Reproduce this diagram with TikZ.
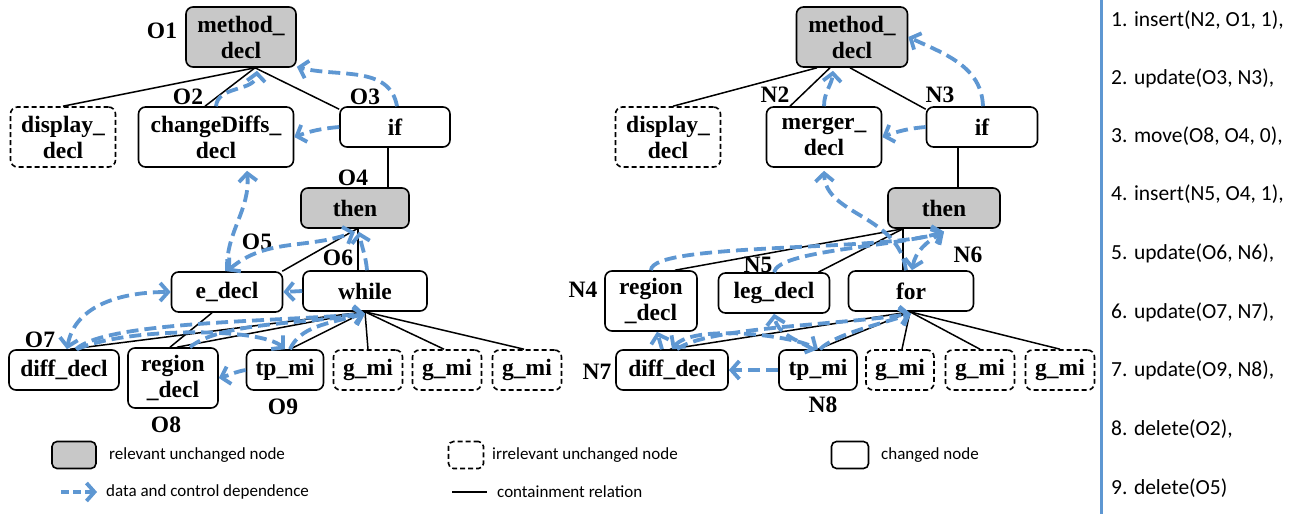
\documentclass[tikz,border=0pt]{standalone}
\usepackage{fontspec}
\usetikzlibrary{arrows.meta}
\newfontfamily\nodeserif{Liberation Serif}
\newfontfamily\calib{Carlito}
\newcommand{\nodetextfont}{\nodeserif\bfseries\fontsize{23.5}{26}\selectfont}
\newcommand{\legtextfont}{\calib\fontsize{17}{20}\selectfont}
\newcommand{\listtextfont}{\calib\fontsize{21.5}{24}\selectfont}
\definecolor{depblue}{RGB}{94,151,210}
\definecolor{relgray}{RGB}{200,200,200}
\tikzset{
  box/.style={draw=black, line width=1.6pt, rounded corners=7pt, inner sep=0pt, align=center, font=\nodetextfont},
  relbox/.style={box, fill=relgray},
  irrbox/.style={box, dash pattern=on 5pt off 3pt},
  chgbox/.style={box},
  lbl/.style={font=\nodetextfont, inner sep=0pt},
  cont/.style={line width=1.5pt},
  dep/.style={draw=depblue, line width=3.8pt, dash pattern=on 12pt off 6pt, -{Straight Barb[length=8pt,width=18pt]}},
  depb/.style={dep, {Straight Barb[length=8pt,width=18pt]}-{Straight Barb[length=8pt,width=18pt]}},
  legtext/.style={anchor=west, font=\legtextfont, inner sep=0pt},
  listtext/.style={anchor=west, font=\listtextfont, inner sep=0pt},
}
\begin{document}
\begin{tikzpicture}[x=1pt,y=-1pt]
\useasboundingbox (0,0) rectangle (1299,514);
\fill[white] (0,0) rectangle (1299,514);

% ---------------- left tree ----------------
\node[relbox, minimum width=110pt, minimum height=60pt] (lm) at (241,37) {method\_\\decl};
\node[irrbox, minimum width=105pt, minimum height=60pt] (ldisp) at (63,137) {display\_\\decl};
\node[chgbox, minimum width=155pt, minimum height=60pt] (lchg) at (216,137) {changeDiffs\_\\decl};
\node[chgbox, minimum width=110pt, minimum height=40pt] (lif) at (395,127) {if};
\node[relbox, minimum width=108pt, minimum height=40pt] (lthen) at (355,208) {then};
\node[chgbox, minimum width=111pt, minimum height=40pt] (led) at (227,292) {e\_decl};
\node[chgbox, minimum width=124pt, minimum height=40pt] (lwhile) at (365,291) {while};
\node[chgbox, minimum width=110pt, minimum height=40pt] (ldiff) at (64,370) {diff\_decl};
\node[chgbox, minimum width=90pt, minimum height=60pt] (lreg) at (173,378) {region\\\_decl};
\node[chgbox, minimum width=77pt, minimum height=40pt] (ltp) at (285,370) {tp\_mi};
\node[irrbox, minimum width=69pt, minimum height=40pt] (lg1) at (368,370) {g\_mi};
\node[irrbox, minimum width=69pt, minimum height=40pt] (lg2) at (447,370) {g\_mi};
\node[irrbox, minimum width=69pt, minimum height=40pt] (lg3) at (527,370) {g\_mi};

\node[lbl] (o1) at (162,31) {O1};
\node[lbl] (o2) at (188,97) {O2};
\node[lbl] (o3) at (365,97) {O3};
\node[lbl] (o4) at (353,178) {O4};
\node[lbl] (o5) at (257,242) {O5};
\node[lbl] (o6) at (338,258) {O6};
\node[lbl] (o7) at (40,340) {O7};
\node[lbl] (o8) at (166,425) {O8};
\node[lbl] (o9) at (283,407) {O9};

% containment (left)
\draw[cont] ([xshift=14pt]lm.south) -- (ldisp.north);
\draw[cont] ([xshift=14pt]lm.south) -- ([xshift=-11pt]lchg.north);
\draw[cont] ([xshift=14pt]lm.south) -- ([yshift=-3pt]lif.north west);
\draw[cont] ([xshift=-7pt]lif.south) -- ([xshift=33pt]lthen.north);
\draw[cont] ([xshift=2pt]lthen.south) -- ([xshift=-1pt]led.north east);
\draw[cont] ([xshift=3pt]lthen.south) -- ([xshift=-7pt]lwhile.north);
\draw[cont] ([xshift=-15pt]led.south) -- ([xshift=-3pt]lreg.north);
\draw[cont] (lwhile.south) -- ([xshift=6pt]ldiff.north);
\draw[cont] (lwhile.south) -- ([xshift=4pt]lreg.north);
\draw[cont] (lwhile.south) -- ([xshift=5pt]ltp.north);
\draw[cont] (lwhile.south) -- (lg1.north);
\draw[cont] (lwhile.south) -- ([xshift=-3pt]lg2.north);
\draw[cont] (lwhile.south) -- ([xshift=-3pt]lg3.north);

% dependence (left)
\draw[dep] (lchg.north) to[out=85,in=-95] ([xshift=16pt,yshift=-3pt]lm.south);
\draw[dep] ([xshift=2pt]lif.north) to[out=100,in=-15] ([yshift=1pt]lm.south east);
\draw[dep] (lif.west) to[out=185,in=20] (lchg.east);
\draw[dep] (led.north) to[out=92,in=-85] ([xshift=31pt,yshift=-3pt]lchg.south);
\draw[depb] (led.north) to[out=40,in=200] ([yshift=-3pt]lthen.south);
\draw[dep] ([xshift=2pt]lwhile.north) to[out=95,in=-80] ([xshift=4pt,yshift=-3pt]lthen.south);
\draw[dep] (lwhile.west) -- (led.east);
\draw[depb] ([xshift=3pt]ldiff.north) to[out=80,in=180] (led.west);
\draw[dep] ([xshift=12pt]ldiff.north) .. controls +(30,-28) and +(-90,8) .. ([yshift=-2pt]lwhile.south);
\draw[dep] ([xshift=13pt]ldiff.north) .. controls +(50,-22) and +(-25,-22) .. (ltp.north);
\draw[dep] ([xshift=17pt]lreg.north) .. controls +(30,-25) and +(-60,10) .. ([yshift=-2pt]lwhile.south);
\draw[dep] ([xshift=5pt]ltp.north) .. controls +(10,-22) and +(-40,10) .. ([yshift=-2pt]lwhile.south);
\draw[dep] (ltp.west) to[out=190,in=15] (lreg.east);

% ---------------- right tree ----------------
\node[relbox, minimum width=111pt, minimum height=60pt] (rm) at (852,37) {method\_\\decl};
\node[irrbox, minimum width=105pt, minimum height=60pt] (rdisp) at (668,137) {display\_\\decl};
\node[chgbox, minimum width=115pt, minimum height=60pt] (rmerg) at (824,137) {merger\_\\decl};
\node[chgbox, minimum width=111pt, minimum height=40pt] (rif) at (982,127) {if};
\node[relbox, minimum width=112pt, minimum height=40pt] (rthen) at (944,208) {then};
\node[chgbox, minimum width=92pt, minimum height=60pt] (rreg) at (651,301) {region\\\_decl};
\node[chgbox, minimum width=111pt, minimum height=40pt] (rleg) at (774,293) {leg\_decl};
\node[chgbox, minimum width=125pt, minimum height=40pt] (rfor) at (911,291) {for};
\node[chgbox, minimum width=112pt, minimum height=40pt] (rdiff) at (672,370) {diff\_decl};
\node[chgbox, minimum width=78pt, minimum height=40pt] (rtp) at (818,370) {tp\_mi};
\node[irrbox, minimum width=68pt, minimum height=40pt] (rg1) at (900,370) {g\_mi};
\node[irrbox, minimum width=69pt, minimum height=40pt] (rg2) at (980,370) {g\_mi};
\node[irrbox, minimum width=69pt, minimum height=40pt] (rg3) at (1060,370) {g\_mi};

\node[lbl] (n2) at (775,95) {N2};
\node[lbl] (n3) at (940,95) {N3};
\node[lbl] (n4) at (583,290) {N4};
\node[lbl] (n5) at (758,265) {N5};
\node[lbl] (n6) at (968,255) {N6};
\node[lbl] (n7) at (597,372) {N7};
\node[lbl] (n8) at (823,405) {N8};

% containment (right)
\draw[cont] ([xshift=-35pt]rm.south) -- ([xshift=5pt]rdisp.north);
\draw[cont] ([xshift=-22pt]rm.south) -- ([xshift=-34pt]rmerg.north);
\draw[cont] ([xshift=-2pt]rm.south) -- ([yshift=-3pt]rif.north west);
\draw[cont] ([xshift=-24pt]rif.south) -- ([xshift=14pt]rthen.north);
\draw[cont] ([xshift=-41pt]rthen.south) -- ([xshift=24pt]rreg.north);
\draw[cont] ([xshift=-41pt]rthen.south) -- ([xshift=-12pt]rleg.north east);
\draw[cont] ([xshift=-41pt]rthen.south) -- ([xshift=-8pt]rfor.north);
\draw[cont] ([xshift=-1pt]rfor.south) -- ([xshift=-2pt]rdiff.north);
\draw[cont] ([xshift=-1pt]rfor.south) -- (rtp.north);
\draw[cont] ([xshift=-1pt]rfor.south) -- ([xshift=2pt]rg1.north);
\draw[cont] ([xshift=-1pt]rfor.south) -- (rg2.north);
\draw[cont] ([xshift=-1pt]rfor.south) -- (rg3.north);

% dependence (right)
\draw[dep] (rmerg.north) to[out=90,in=-95] ([xshift=-19pt,yshift=-3pt]rm.south);
\draw[dep] ([xshift=1pt]rif.north) to[out=92,in=-25] (rm.east);
\draw[dep] (rif.west) to[out=185,in=20] (rmerg.east);
\draw[dep] ([xshift=-5pt]rfor.north) .. controls +(-8,-56) and +(2,45) .. ([yshift=-3pt]rmerg.south);
\draw[depb] ([xshift=1pt]rfor.north) to[out=80,in=210] ([yshift=-3pt]rthen.south);
\draw[dep] (rreg.north) .. controls +(0,-28) and +(-60,20) .. ([yshift=-3pt]rthen.south);
\draw[dep] (rleg.north) .. controls +(5,-22) and +(-50,15) .. ([yshift=-3pt]rthen.south);
\draw[dep] ([xshift=-10pt]rdiff.north) -- ([xshift=6pt]rreg.south);
\draw[depb] (rdiff.north) .. controls +(20,-25) and +(-30,-15) .. (rtp.north);
\draw[dep] ([xshift=-5pt]rtp.north) to[out=150,in=-80] (rleg.south);
\draw[dep] ([xshift=5pt]rdiff.north) .. controls +(30,-22) and +(-80,12) .. ([yshift=-2pt]rfor.south);
\draw[dep] ([xshift=2pt]rtp.north) .. controls +(15,-15) and +(-30,10) .. ([yshift=-2pt]rfor.south);
\draw[dep] (rtp.west) -- (rdiff.east);

% ---------------- separator and edit script ----------------
\coordinate (sepTop) at (1101,0);
\coordinate (sepBot) at (1101,514);
\draw[depblue, line width=3pt] (sepTop) -- (sepBot);
\node[listtext] (s1) at (1111,20) {1. insert(N2, O1, 1),};
\node[listtext] (s2) at (1111,78) {2. update(O3, N3),};
\node[listtext] (s3) at (1111,136) {3. move(O8, O4, 0),};
\node[listtext] (s4) at (1111,194) {4. insert(N5, O4, 1),};
\node[listtext] (s5) at (1111,253) {5. update(O6, N6),};
\node[listtext] (s6) at (1111,312) {6. update(O7, N7),};
\node[listtext] (s7) at (1111,370) {7. update(O9, N8),};
\node[listtext] (s8) at (1111,429) {8. delete(O2),};
\node[listtext] (s9) at (1111,488) {9. delete(O5)};

% ---------------- legend ----------------
\node[relbox, rounded corners=5pt, minimum width=44pt, minimum height=27pt] (k1) at (74,455) {};
\node[legtext] (k1t) at (109,455) {relevant unchanged node};
\node[irrbox, rounded corners=5pt, minimum width=35pt, minimum height=27pt] (k2) at (466,455) {};
\node[legtext] (k2t) at (492,455) {irrelevant unchanged node};
\node[chgbox, rounded corners=5pt, minimum width=37pt, minimum height=27pt] (k3) at (850,455) {};
\node[legtext] (k3t) at (881,455) {changed node};
\coordinate (k4a) at (61,492);
\coordinate (k4b) at (97,492);
\draw[dep, dash pattern=on 8pt off 4pt] (k4a) -- (k4b);
\node[legtext] (k4t) at (106,492) {data and control dependence};
\coordinate (k5a) at (452,492);
\coordinate (k5b) at (487,492);
\draw[line width=2pt] (k5a) -- (k5b);
\node[legtext] (k5t) at (497,492) {containment relation};
\end{tikzpicture}
\end{document}
